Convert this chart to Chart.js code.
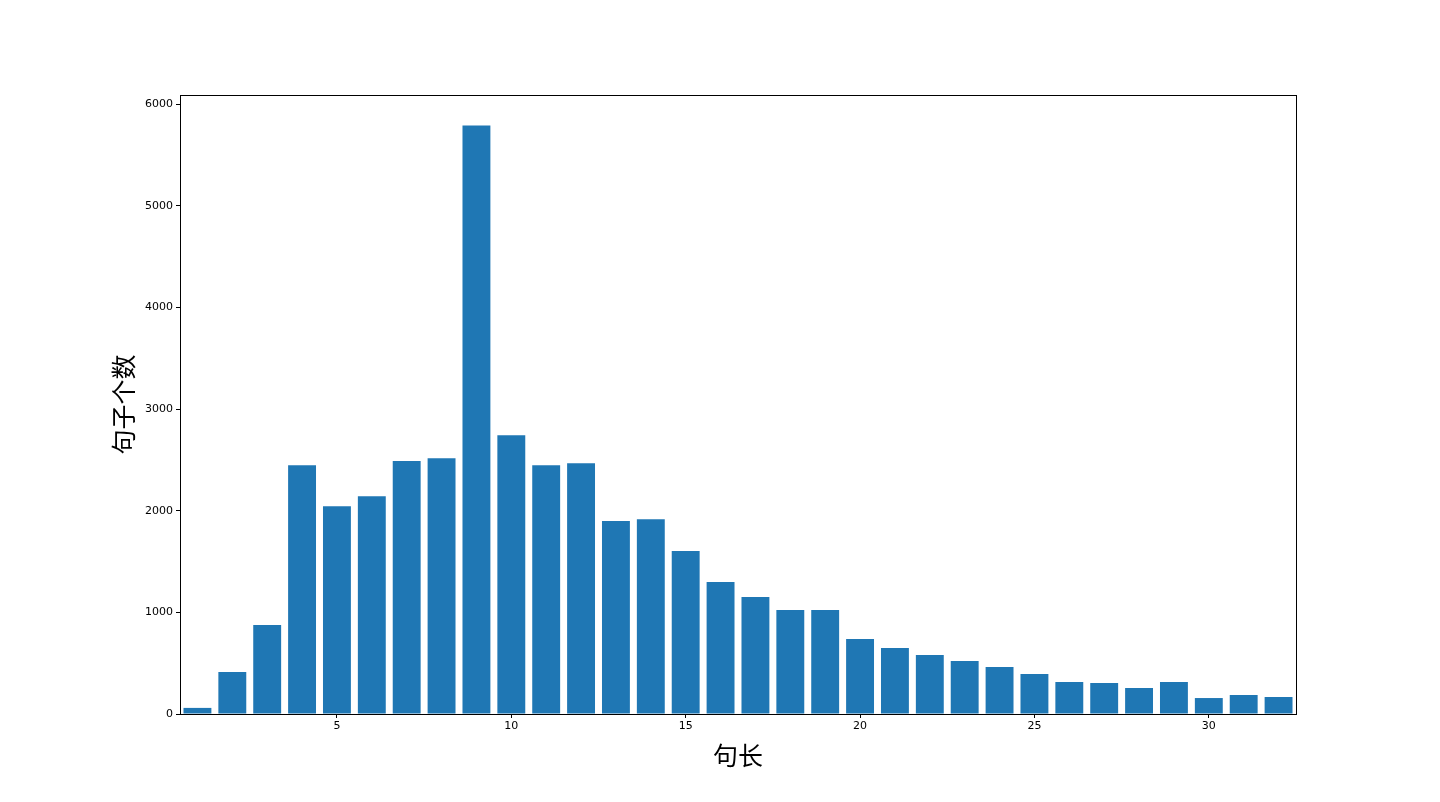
<!DOCTYPE html>
<html>
<head>
<meta charset="utf-8">
<script src="https://cdn.jsdelivr.net/npm/chart.js@4/dist/chart.umd.min.js"></script>
<style>
  html, body { margin: 0; padding: 0; background: #fff; }
  #wrap { width: 1440px; height: 802px; }
</style>
</head>
<body>
<div id="wrap"><canvas id="lenChart" width="1440" height="802"></canvas></div>
<script>
// sentence length histogram
const lengths = [1, 2, 3, 4, 5, 6, 7, 8, 9, 10, 11, 12, 13, 14, 15, 16,
                 17, 18, 19, 20, 21, 22, 23, 24, 25, 26, 27, 28, 29, 30, 31, 32];
const counts = [60, 413, 875, 2448, 2045, 2143, 2488, 2517, 5791, 2743, 2448, 2468, 1898, 1917, 1603, 1298,
                1150, 1023, 1023, 737, 649, 580, 521, 462, 393, 315, 305, 256, 315, 157, 187, 167];
const yTicks = [0, 1000, 2000, 3000, 4000, 5000, 6000];
const xTickEvery = 5;

const tickFont = { family: 'DejaVu Sans', size: 11 };
const titleFont = { family: 'Noto Sans CJK SC', size: 25 };

// black frame around the plot area
const framePlugin = {
    id: 'frame',
    afterDraw(chart) {
        const a = chart.chartArea;
        const ctx = chart.ctx;
        ctx.save();
        ctx.strokeStyle = '#000';
        ctx.lineWidth = 1;
        ctx.strokeRect(Math.round(a.left) + 0.5, Math.round(a.top) + 0.5,
                       Math.round(a.right - a.left), Math.round(a.bottom - a.top));
        ctx.restore();
    }
};

new Chart(document.getElementById('lenChart'), {
    type: 'bar',
    data: {
        labels: lengths,
        datasets: [{
            data: counts,
            backgroundColor: '#1f77b4',
            borderColor: '#1f77b4',
            borderWidth: 0,
            inflateAmount: 0,
            barPercentage: 0.8,
            categoryPercentage: 1.0
        }]
    },
    options: {
        responsive: false,
        animation: false,
        layout: { padding: { top: 95, right: 144, left: 0, bottom: 0 } },
        plugins: { legend: { display: false }, tooltip: { enabled: false } },
        scales: {
            x: {
                offset: true,
                grid: { offset: false, drawOnChartArea: false, drawTicks: true, tickLength: 4, color: '#000' },
                border: { display: false },
                ticks: {
                    color: '#000', font: tickFont, maxRotation: 0, autoSkip: false, padding: 2,
                    callback: function (v) {
                        const n = lengths[v];
                        return n % xTickEvery === 0 ? String(n) : null;
                    }
                },
                title: { display: true, text: '句长', color: '#000', font: titleFont, padding: { top: 4, bottom: 32 } },
                afterFit(scale) { scale.height = 88; }
            },
            y: {
                min: 0,
                max: 6090,
                grid: { drawOnChartArea: false, drawTicks: true, tickLength: 4, color: '#000' },
                border: { display: false },
                ticks: { color: '#000', font: tickFont, padding: 3, callback: v => String(v) },
                afterBuildTicks(scale) { scale.ticks = yTicks.map(v => ({ value: v })); },
                title: { display: true, text: '句子个数', color: '#000', font: titleFont, padding: { top: 108, bottom: 0 } },
                afterFit(scale) { scale.width = 180; }
            }
        }
    },
    plugins: [framePlugin]
});
</script>
</body>
</html>
